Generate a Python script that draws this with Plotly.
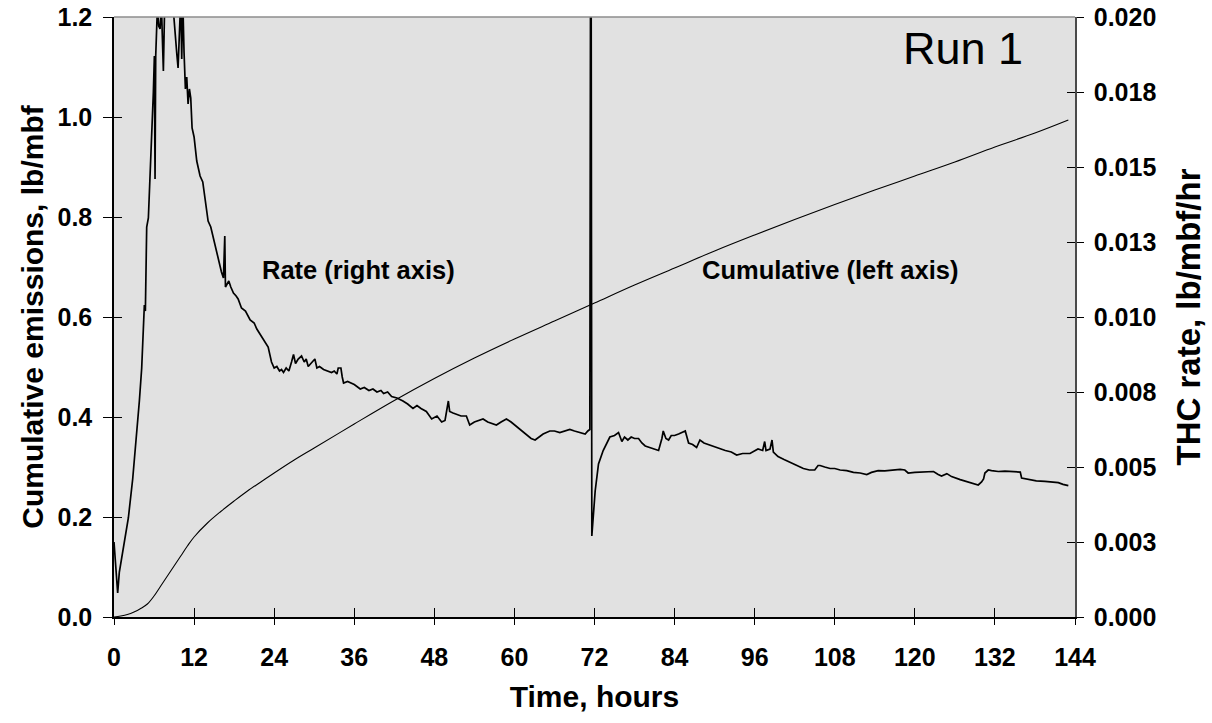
import plotly.graph_objects as go

# ---------------- data ----------------
# Cumulative emissions (left axis), lb/mbf
cum_t = [0, 1, 2, 3, 4, 5, 6, 7, 8, 9, 10, 11, 12, 14, 16, 18, 20, 22, 24, 27, 30, 36, 42,
         48, 54, 60, 66, 72, 78, 84, 90, 96, 102, 108, 114, 120, 126, 132, 138, 143]
cum_v = [0.0, 0.002, 0.005, 0.010, 0.017, 0.026, 0.042, 0.062, 0.082, 0.102, 0.122, 0.142,
         0.160, 0.188, 0.211, 0.232, 0.252, 0.270, 0.288, 0.314, 0.338, 0.386, 0.433,
         0.477, 0.518, 0.556, 0.592, 0.628, 0.664, 0.698, 0.732, 0.764, 0.795, 0.825,
         0.854, 0.882, 0.910, 0.940, 0.968, 0.994]

# THC rate (right axis), in 1/1000 lb/mbf/hr
rate_t = [0, 0.3, 0.55, 0.8, 1.15, 1.6, 2.15, 2.8, 3.4, 3.8, 4.15, 4.55, 4.7, 4.9, 5.15, 5.4,
          5.65, 5.9, 6.05, 6.15, 6.25, 6.5, 6.7, 6.9, 7.1, 7.4, 7.6, 7.7, 8.0, 8.3, 8.6, 8.9,
          9.1, 9.4, 9.6, 9.8, 10.0, 10.15, 10.3, 10.5, 10.7, 10.9, 11.1, 11.3, 11.5, 11.7,
          12.0, 12.4, 12.9, 13.3, 13.6, 14.1, 14.5, 14.9, 15.2, 15.6, 16.1, 16.4, 16.6, 16.7,
          16.9, 17.2, 17.5, 17.9, 18.3, 18.6, 19.1, 19.7, 20.4, 21.0, 21.4, 22.0, 22.6, 23.1,
          23.6,
          24.0, 24.4, 24.8, 25.1, 25.4, 25.8, 26.2, 26.6, 26.9, 27.2, 27.6, 28.1, 28.5, 28.8,
          29.1, 29.5, 30.1, 30.4, 30.8, 31.4, 32.0, 32.6, 33.0, 33.4, 33.6, 34.0, 34.2, 34.4,
          35.0, 35.4, 36.0, 36.9, 37.5, 38.2, 38.8, 39.4, 40.0, 40.4, 41.0, 41.6, 42.4, 43.3,
          44.0, 44.8, 45.4, 46.0, 46.8, 47.6, 48.4, 49.1, 49.6, 50.1, 50.3, 50.8, 51.3, 52.0,
          52.8, 53.3, 54.0, 54.6, 55.3, 56.0, 56.6, 57.3, 58.0, 58.8, 59.5, 60.3, 61.0, 61.8,
          62.5, 63.1, 63.7, 64.3, 65.3, 66.0, 66.8, 67.5, 68.3, 69.0, 69.8, 70.6, 71.0, 71.3,
          71.4, 71.5, 71.6, 72.1, 72.6, 73.3, 74.3, 75.0, 75.6, 76.1, 76.5, 77.0, 77.5, 78.0,
          78.6, 79.1, 79.6, 80.2, 81.0, 81.6, 82.1, 82.3, 82.7, 83.1, 83.5, 84.0, 84.6, 85.1,
          85.6, 86.1, 86.7, 87.3, 87.8, 88.4, 89.0, 89.8, 90.8, 91.6, 92.5, 93.3, 94.2, 95.3,
          96.5, 97.2, 97.5, 97.7, 98.3, 98.6, 98.8, 99.5, 100.4, 101.3, 102.3, 103.3, 104.2,
          105.0, 105.5, 105.8, 106.5, 107.3, 108.0, 108.8, 109.8, 110.8, 111.8, 112.8, 113.5,
          114.5, 115.5, 116.5, 117.8, 118.5, 119.0, 120.0, 121.0, 122.0, 122.8, 123.5, 124.0,
          124.8, 125.5, 126.8, 127.8, 128.8, 129.5, 130.0, 130.3, 130.5, 131.0, 131.5, 132.5,
          133.5, 134.5, 135.8, 136.0, 137.0, 138.2, 139.5, 140.7, 141.5, 142.2, 143.0]
rate_milli = [2.5, 1.6, 0.8, 1.5, 2.0, 2.6, 3.3, 4.6, 6.1, 7.2, 8.3, 10.4, 10.2, 13.0, 13.3, 14.6,
              15.8, 17.5, 18.7, 14.6, 18.7, 20.3, 19.7, 19.6, 20.4, 18.2, 20.5, 20.6, 21.0, 20.5,
              20.8, 20.2, 19.5, 18.8, 18.3, 19.5, 20.6, 18.6, 20.6, 18.8, 17.6, 18.0, 17.1, 17.6,
              17.3, 16.3, 16.0, 15.2, 14.7, 14.5, 14.0, 13.2, 13.0, 12.6, 12.4, 11.9, 11.5, 11.3,
              12.7, 11.0, 11.1, 11.2, 11.0, 10.8, 10.7, 10.6, 10.3, 10.2, 9.9, 9.8, 9.6, 9.4,
              9.2, 9.0, 8.5,
              8.3, 8.35, 8.2, 8.25, 8.15, 8.3, 8.2, 8.5, 8.75, 8.45, 8.6, 8.7, 8.5, 8.6,
              8.35, 8.45, 8.6, 8.3, 8.35, 8.25, 8.2, 8.15, 8.2, 8.1, 8.3, 8.3, 8.0, 7.8,
              7.85, 7.8, 7.75, 7.6, 7.65, 7.55, 7.6, 7.5, 7.55, 7.45, 7.5, 7.35, 7.3, 7.2,
              7.1, 6.95, 7.05, 6.95, 6.85, 6.6, 6.7, 6.5, 6.55, 7.2, 6.85, 6.8, 6.75, 6.7,
              6.7, 6.4, 6.5, 6.55, 6.6, 6.5, 6.45, 6.4, 6.5, 6.6, 6.5, 6.35, 6.2, 6.05,
              5.95, 5.9, 6.0, 6.1, 6.2, 6.2, 6.15, 6.2, 6.25, 6.2, 6.15, 6.1, 6.2, 6.25,
              21.0, 21.0, 2.7, 4.2, 5.1, 5.55, 6.0, 6.05, 6.15, 5.85, 6.0, 5.9, 6.0, 5.95,
              5.95, 5.8, 5.7, 5.65, 5.6, 5.55, 5.95, 6.2, 5.95, 5.9, 6.05, 6.05, 6.1, 6.15,
              6.2, 5.8, 5.75, 5.65, 5.9, 5.8, 5.75, 5.7, 5.6, 5.55, 5.5, 5.4, 5.45, 5.45,
              5.6, 5.55, 5.85, 5.55, 5.6, 5.9, 5.5, 5.35, 5.25, 5.15, 5.05, 4.95, 4.9,
              4.9, 5.05, 5.05, 5.0, 4.95, 4.95, 4.9, 4.88, 4.82, 4.8, 4.75, 4.82,
              4.88, 4.87, 4.9, 4.92, 4.9, 4.8, 4.82, 4.83, 4.85, 4.85, 4.75, 4.7,
              4.78, 4.68, 4.58, 4.52, 4.45, 4.4, 4.5, 4.6, 4.8, 4.9, 4.88, 4.85,
              4.86, 4.84, 4.83, 4.63, 4.58, 4.54, 4.52, 4.5, 4.48, 4.42, 4.38]
rate_v = [v / 1000 for v in rate_milli]

x_ticks = [0, 12, 24, 36, 48, 60, 72, 84, 96, 108, 120, 132, 144]
left_ticks = [0.0, 0.2, 0.4, 0.6, 0.8, 1.0, 1.2]
right_tickvals = [0, 0.0025, 0.005, 0.0075, 0.01, 0.0125, 0.015, 0.0175, 0.02]
right_ticktext = ["0.000", "0.003", "0.005", "0.008", "0.010", "0.013", "0.015", "0.018", "0.020"]

FONT = "Liberation Sans, Arial, sans-serif"
tickfont = dict(family=FONT, size=25, color="black", weight="bold")
titlefont = dict(family=FONT, size=30, color="black", weight="bold")
rtitlefont = dict(family=FONT, size=33, color="black", weight="bold")
annfont = dict(family=FONT, size=25.5, color="black", weight="bold")

fig = go.Figure()
fig.add_trace(go.Scatter(x=cum_t, y=cum_v, mode="lines", line=dict(color="black", width=1.1),
                         line_shape="spline", xaxis="x", yaxis="y", showlegend=False))
fig.add_trace(go.Scatter(x=rate_t, y=rate_v, mode="lines", line=dict(color="black", width=1.7),
                         xaxis="x", yaxis="y2", showlegend=False))
# empty helper traces so the inner-tick overlay axes are drawn
fig.add_trace(go.Scatter(x=[None], y=[None], xaxis="x3", yaxis="y3", showlegend=False,
                         hoverinfo="skip"))
fig.add_trace(go.Scatter(x=[None], y=[None], xaxis="x3", yaxis="y4", showlegend=False,
                         hoverinfo="skip"))

fig.update_layout(
    width=1212, height=723,
    margin=dict(l=114, r=137, t=17, b=106),
    paper_bgcolor="white", plot_bgcolor="#E1E1E1",
    xaxis=dict(range=[0, 144], tickvals=x_ticks, showgrid=False, zeroline=False,
               showline=True, linecolor="black", linewidth=1.5, automargin=False,
               ticks="outside", ticklen=6, tickcolor="black", tickwidth=1,
               tickfont=tickfont, ticklabelstandoff=11, ticklabeloverflow="allow",
               title=dict(text="Time, hours", font=titlefont, standoff=16)),
    xaxis3=dict(range=[0, 144], tickvals=x_ticks, overlaying="x", anchor="y", side="bottom",
                showgrid=False, zeroline=False, showline=False, showticklabels=False,
                automargin=False, ticks="inside", ticklen=9, tickcolor="black", tickwidth=1),
    yaxis=dict(range=[0, 1.2], tickvals=left_ticks, tickformat=".1f", showgrid=False,
               zeroline=False, showline=True, linecolor="black", linewidth=1.5, automargin=False,
               ticks="outside", ticklen=9, tickcolor="black", tickwidth=1,
               tickfont=tickfont, ticklabelstandoff=6, ticklabeloverflow="allow",
               title=dict(text="Cumulative emissions, lb/mbf", font=titlefont, standoff=5)),
    yaxis3=dict(range=[0, 1.2], tickvals=left_ticks, overlaying="y", anchor="x3", side="left",
                showgrid=False, zeroline=False, showline=False, showticklabels=False,
                automargin=False, ticks="inside", ticklen=8, tickcolor="black", tickwidth=1),
    yaxis2=dict(range=[0, 0.02], tickvals=right_tickvals, ticktext=right_ticktext,
                overlaying="y", side="right", anchor="x", showgrid=False, zeroline=False,
                showline=True, linecolor="#4a4a4a", linewidth=1.5, automargin=False,
                ticks="outside", ticklen=7, tickcolor="black", tickwidth=1,
                tickfont=tickfont, ticklabelstandoff=5, ticklabeloverflow="allow",
                title=dict(text="THC rate, lb/mbf/hr", font=rtitlefont, standoff=21)),
    yaxis4=dict(range=[0, 0.02], tickvals=right_tickvals, overlaying="y", side="right",
                anchor="x3", showgrid=False, zeroline=False, showline=False, automargin=False,
                showticklabels=False, ticks="inside", ticklen=8, tickcolor="black", tickwidth=1),
    shapes=[dict(type="line", xref="paper", yref="paper", x0=0, x1=1, y0=1, y1=1,
                 line=dict(color="#8c8c8c", width=1.5))],
    annotations=[
        dict(x=36.6, y=0.694, xref="x", yref="y", text="Rate (right axis)", showarrow=False,
             font=annfont),
        dict(x=107.3, y=0.694, xref="x", yref="y", text="Cumulative (left axis)",
             showarrow=False, font=annfont),
        dict(x=127.2, y=1.138, xref="x", yref="y", text="Run 1", showarrow=False,
             font=dict(family=FONT, size=45, color="black")),
    ],
)

fig.write_html("out.html", config={"displayModeBar": False},
               post_script="document.body.style.margin='0px';")
